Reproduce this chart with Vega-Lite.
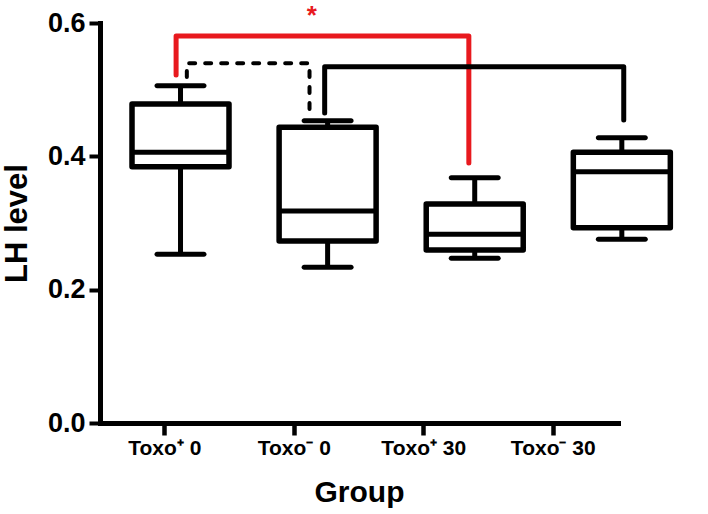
{
  "$schema": "https://vega.github.io/schema/vega-lite/v6.json",
  "width": 518,
  "height": 400,
  "autosize": {"type": "none"},
  "padding": {"left": 100, "top": 23, "right": 90, "bottom": 91},
  "background": "white",
  "config": {
    "view": {"stroke": null},
    "font": "Liberation Sans",
    "axisX": {
      "domainColor": "black", "domainWidth": 5, "domainCap": "square",
      "tickColor": "black", "tickWidth": 4.5, "tickSize": 12,
      "labelFont": "Liberation Sans", "labelFontWeight": "bold", "labelFontSize": 21, "labelColor": "black",
      "labelPadding": 2.5, "labelAngle": 0,
      "titleFont": "Liberation Sans", "titleFontWeight": "bold", "titleFontSize": 30, "titleColor": "black",
      "titlePadding": 19, "grid": false
    },
    "axisY": {
      "domainColor": "black", "domainWidth": 5, "domainCap": "square",
      "tickColor": "black", "tickWidth": 4, "tickSize": 11,
      "labelFont": "Liberation Sans", "labelFontWeight": "bold", "labelFontSize": 27, "labelColor": "black",
      "labelPadding": 4,
      "titleFont": "Liberation Sans", "titleFontWeight": "bold", "titleFontSize": 31, "titleColor": "black",
      "titlePadding": 14, "grid": false
    }
  },
  "datasets": {
    "boxes": [
      {"group": "Toxo⁺ 0", "groupIndex": 1, "min": 0.253, "q1": 0.3845, "median": 0.406, "q3": 0.4785, "max": 0.506},
      {"group": "Toxo⁻  0", "groupIndex": 2, "min": 0.2335, "q1": 0.273, "median": 0.318, "q3": 0.4435, "max": 0.4535},
      {"group": "Toxo⁺ 30", "groupIndex": 3, "min": 0.247, "q1": 0.2595, "median": 0.283, "q3": 0.3285, "max": 0.368},
      {"group": "Toxo⁻ 30", "groupIndex": 4, "min": 0.2755, "q1": 0.293, "median": 0.377, "q3": 0.406, "max": 0.428}
    ],
    "brackets": [
      {"bracket": "red", "i": 1, "x": 0.97, "y": 0.522},
      {"bracket": "red", "i": 2, "x": 0.97, "y": 0.5805},
      {"bracket": "red", "i": 3, "x": 2.96, "y": 0.5805},
      {"bracket": "red", "i": 4, "x": 2.96, "y": 0.39},
      {"bracket": "dashed", "i": 1, "x": 1.043, "y": 0.519},
      {"bracket": "dashed", "i": 2, "x": 1.043, "y": 0.5395},
      {"bracket": "dashed", "i": 3, "x": 1.877, "y": 0.5395},
      {"bracket": "dashed", "i": 4, "x": 1.877, "y": 0.467},
      {"bracket": "black", "i": 1, "x": 1.98, "y": 0.465},
      {"bracket": "black", "i": 2, "x": 1.98, "y": 0.5345},
      {"bracket": "black", "i": 3, "x": 4.013, "y": 0.5345},
      {"bracket": "black", "i": 4, "x": 4.013, "y": 0.4545}
    ],
    "stars": [
      {"label": "*", "x": 1.893, "y": 0.598}
    ]
  },
  "resolve": {"scale": {"x": "independent"}, "axis": {"x": "independent"}},
  "layer": [
    {
      "data": {"name": "boxes"},
      "mark": {"type": "tick", "opacity": 0},
      "encoding": {
        "x": {"field": "group", "type": "nominal", "sort": null, "title": "Group",
              "scale": {"paddingInner": 0, "paddingOuter": 0}}
      }
    },
    {
      "layer": [
        {
          "data": {"name": "boxes"},
          "mark": {"type": "rule", "color": "black", "strokeWidth": 5},
          "encoding": {
            "x": {"field": "groupIndex", "type": "quantitative", "axis": null,
                  "scale": {"domain": [0.4867, 3.94], "nice": false, "zero": false}},
            "y": {"field": "min", "type": "quantitative", "title": "LH level",
                  "scale": {"domain": [0, 0.6], "nice": false},
                  "axis": {"values": [0, 0.2, 0.4, 0.6], "format": ".1f"}},
            "y2": {"field": "max"}
          }
        },
        {
          "data": {"name": "boxes"},
          "mark": {"type": "bar", "width": 97, "fill": "white", "stroke": "black", "strokeWidth": 5.5, "strokeJoin": "round"},
          "encoding": {
            "x": {"field": "groupIndex", "type": "quantitative"},
            "y": {"field": "q1", "type": "quantitative", "title": "LH level"},
            "y2": {"field": "q3"}
          }
        },
        {
          "data": {"name": "boxes"},
          "mark": {"type": "tick", "orient": "horizontal", "size": 97, "thickness": 5, "color": "black", "opacity": 1},
          "encoding": {
            "x": {"field": "groupIndex", "type": "quantitative"},
            "y": {"field": "median", "type": "quantitative", "title": "LH level"}
          }
        },
        {
          "data": {"name": "boxes"},
          "mark": {"type": "tick", "orient": "horizontal", "size": 52, "thickness": 5, "cornerRadius": 2.5, "color": "black", "opacity": 1},
          "encoding": {
            "x": {"field": "groupIndex", "type": "quantitative"},
            "y": {"field": "min", "type": "quantitative", "title": "LH level"}
          }
        },
        {
          "data": {"name": "boxes"},
          "mark": {"type": "tick", "orient": "horizontal", "size": 52, "thickness": 5, "cornerRadius": 2.5, "color": "black", "opacity": 1},
          "encoding": {
            "x": {"field": "groupIndex", "type": "quantitative"},
            "y": {"field": "max", "type": "quantitative", "title": "LH level"}
          }
        },
        {
          "data": {"name": "brackets"},
          "transform": [{"filter": "datum.bracket === 'red'"}],
          "mark": {"type": "line", "color": "#e8191e", "strokeWidth": 5, "strokeCap": "round", "strokeJoin": "round"},
          "encoding": {
            "x": {"field": "x", "type": "quantitative"},
            "y": {"field": "y", "type": "quantitative", "title": "LH level"},
            "order": {"field": "i", "type": "quantitative"}
          }
        },
        {
          "data": {"name": "brackets"},
          "transform": [{"filter": "datum.bracket === 'dashed'"}],
          "mark": {"type": "line", "color": "black", "strokeWidth": 4, "strokeCap": "round", "strokeDash": [6, 10]},
          "encoding": {
            "x": {"field": "x", "type": "quantitative"},
            "y": {"field": "y", "type": "quantitative", "title": "LH level"},
            "order": {"field": "i", "type": "quantitative"}
          }
        },
        {
          "data": {"name": "brackets"},
          "transform": [{"filter": "datum.bracket === 'black'"}],
          "mark": {"type": "line", "color": "black", "strokeWidth": 5, "strokeCap": "round", "strokeJoin": "round"},
          "encoding": {
            "x": {"field": "x", "type": "quantitative"},
            "y": {"field": "y", "type": "quantitative", "title": "LH level"},
            "order": {"field": "i", "type": "quantitative"}
          }
        },
        {
          "data": {"name": "stars"},
          "mark": {"type": "text", "color": "#e8191e", "fontSize": 26, "fontWeight": "bold", "font": "Liberation Sans", "align": "center", "baseline": "alphabetic"},
          "encoding": {
            "x": {"field": "x", "type": "quantitative"},
            "y": {"field": "y", "type": "quantitative", "title": "LH level"},
            "text": {"field": "label"}
          }
        }
      ]
    }
  ]
}
